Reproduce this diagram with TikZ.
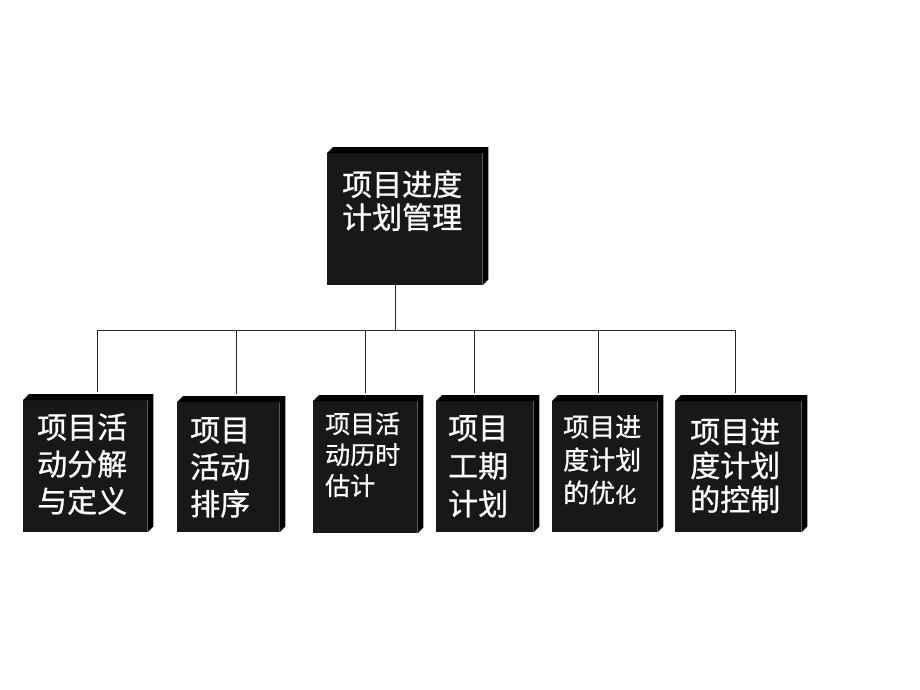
\documentclass[tikz,border=0pt]{standalone}
\usepackage{fontspec}
\newfontfamily\cjk[FakeBold=0.8]{Noto Sans CJK SC}
\definecolor{face}{RGB}{24,24,24}
\definecolor{conn}{RGB}{40,40,40}
\tikzset{
  box/.style={rectangle, fill=face, inner sep=0pt, anchor=north west},
  lbl/.style={text=white, align=left, inner sep=0pt, anchor=north west},
  big/.style={lbl, font=\cjk\fontsize{30}{37}\selectfont},
  small/.style={lbl, font=\cjk\fontsize{25}{31}\selectfont},
  conline/.style={draw=conn, line width=1pt},
}
\newcommand{\extrude}[1]{%
  \fill[black] (#1.north west) -- ([shift={(6,-6)}]#1.north west) -- ([shift={(6,-6)}]#1.north east)
    -- ([shift={(6,-6)}]#1.south east) -- (#1.south east) -- (#1.north east) -- cycle;}
\begin{document}
\begin{tikzpicture}[x=1pt,y=-1pt]
\useasboundingbox (0,0) rectangle (920,690);
% boxes
\node[box, minimum width=155pt, minimum height=132pt] (top) at (327,153) {};
\node[box, minimum width=124pt, minimum height=132pt] (c1) at (23,400) {};
\node[box, minimum width=102pt, minimum height=130pt] (c2) at (177,402) {};
\node[box, minimum width=104pt, minimum height=132pt] (c3) at (313,401) {};
\node[box, minimum width=97pt, minimum height=131pt] (c4) at (436,401) {};
\node[box, minimum width=105pt, minimum height=131pt] (c5) at (552,401) {};
\node[box, minimum width=126pt, minimum height=131pt] (c6) at (675,401) {};
\foreach \n in {top,c1,c2,c3,c4,c5,c6} {\extrude{\n}}
% labels
\node[lbl, font=\cjk\fontsize{30}{33}\selectfont] (ttop) at ([shift={(15,17)}]top.north west) {项目进度\\计划管理};
\node[big] (t1) at ([shift={(14,13)}]c1.north west) {项目活\\动分解\\与定义};
\node[big] (t2) at ([shift={(13,15)}]c2.north west) {项目\\活动\\排序};
\node[small] (t3) at ([shift={(12,11)}]c3.north west) {项目活\\动历时\\估计};
\node[lbl, font=\cjk\fontsize{30}{38}\selectfont] (t4) at ([shift={(12,14)}]c4.north west) {项目\\工期\\计划};
\node[lbl, font=\cjk\fontsize{26}{33}\selectfont] (t5) at ([shift={(11,14)}]c5.north west) {项目进\\度计划\\的优{\fontsize{21}{21}\selectfont 化}};
\node[lbl, font=\cjk\fontsize{30}{34}\selectfont] (t6) at ([shift={(15,17)}]c6.north west) {项目进\\度计划\\的控制};
% connectors
\coordinate (h0) at (395,330);
\coordinate (h1) at (97,330);
\coordinate (h2) at (236,330);
\coordinate (h3) at (365,330);
\coordinate (h4) at (474,330);
\coordinate (h5) at (598,330);
\coordinate (h6) at (735,330);
\draw[conline] (top.south -| h0) -- (h0);
\draw[conline] (h1) -- (h6);
\foreach \i in {1,...,6} {\draw[conline, shorten >=8pt] (h\i) -- (h\i |- c\i.north);}
\end{tikzpicture}
\end{document}
